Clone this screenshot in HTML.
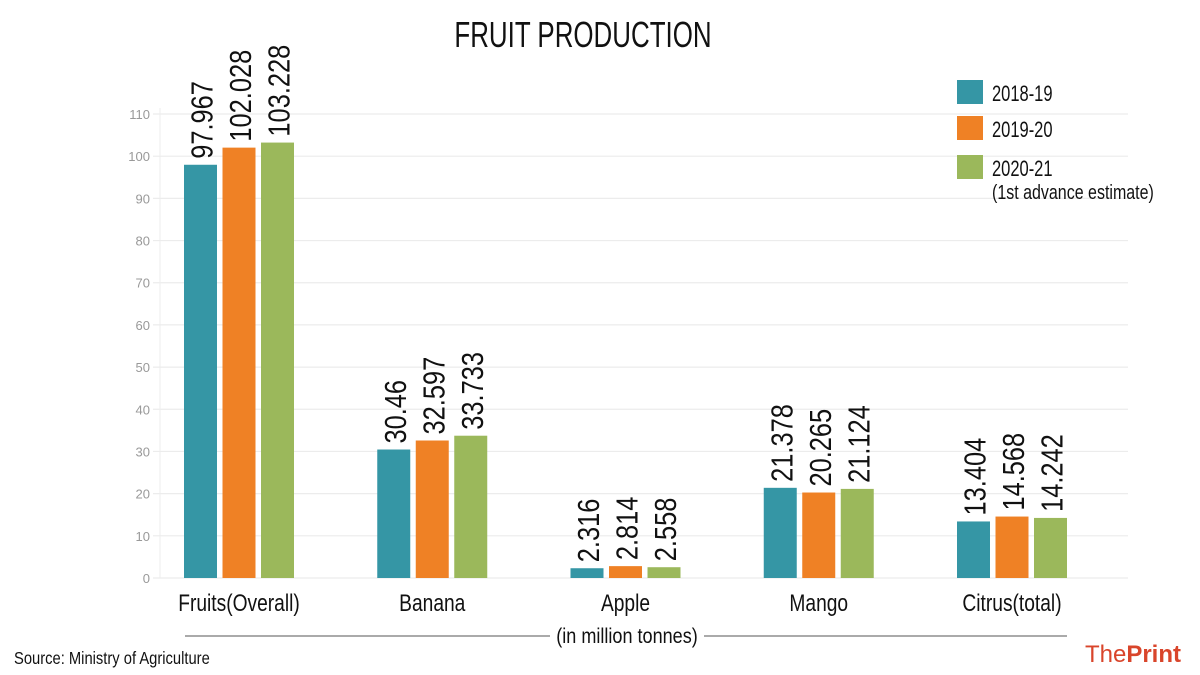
<!DOCTYPE html>
<html><head><meta charset="utf-8"><style>
body{margin:0;background:#fff}
svg{display:block}
text{font-family:"Liberation Sans Narrow","Liberation Sans",sans-serif}
</style></head><body>
<svg id="chart" width="1200" height="675" viewBox="0 0 1200 675" xmlns="http://www.w3.org/2000/svg">
<rect width="1200" height="675" fill="#fff"/>
<text transform="translate(583,47) scale(0.72,1)" font-size="36" text-anchor="middle" fill="#111">FRUIT PRODUCTION</text>
<g id="grid"></g>
<g id="bars"></g>
<g id="labels"></g>
<g id="xlabels"></g>
<g>
<rect x="957" y="80" width="26" height="24" fill="#3596a5"/>
<text transform="translate(992,101) scale(0.75,1)" font-size="22" fill="#111">2018-19</text>
<rect x="957" y="116" width="26" height="24" fill="#ef8125"/>
<text transform="translate(992,137) scale(0.75,1)" font-size="22" fill="#111">2019-20</text>
<rect x="957" y="155" width="26" height="24" fill="#9bb85b"/>
<text transform="translate(992,176) scale(0.75,1)" font-size="22" fill="#111">2020-21</text>
<text transform="translate(992,199) scale(0.8,1)" font-size="20" fill="#111">(1st advance estimate)</text>
</g>
<line x1="185" y1="636" x2="550" y2="636" stroke="#555" stroke-width="1"/>
<line x1="704" y1="636" x2="1067" y2="636" stroke="#555" stroke-width="1"/>
<text transform="translate(627,643) scale(0.86,1)" font-size="21" text-anchor="middle" fill="#111">(in million tonnes)</text>
<text transform="translate(14,664) scale(0.82,1)" font-size="18" fill="#111">Source: Ministry of Agriculture</text>
<text x="1181" y="662" font-size="24" text-anchor="end" font-family="Liberation Serif,serif" fill="#d9452b">The<tspan font-weight="bold">Print</tspan></text>
</svg>
<script>
const categories=["Fruits(Overall)","Banana","Apple","Mango","Citrus(total)"];
const s2018=[97.967,30.46,2.316,21.378,13.404];
const s2019=[102.028,32.597,2.814,20.265,14.568];
const s2020=[103.228,33.733,2.558,21.124,14.242];
const labels2018=["97.967","30.46","2.316","21.378","13.404"];
const labels2019=["102.028","32.597","2.814","20.265","14.568"];
const labels2020=["103.228","33.733","2.558","21.124","14.242"];
const yTicks=[0,10,20,30,40,50,60,70,80,90,100,110];
const NS="http://www.w3.org/2000/svg";
const y0=578,y110=114;
function y(v){return y0-(v/110)*(y0-y110);}
function gx(i){return 184+i*193.25;}
function mk(tag,attrs,parent){const e=document.createElementNS(NS,tag);for(const k in attrs)e.setAttribute(k,attrs[k]);parent.appendChild(e);return e;}
const grid=document.getElementById('grid');
const vline=mk('line',{x1:160,y1:y110-6,x2:160,y2:y0,stroke:'#eee','stroke-width':1},grid);


yTicks.forEach(t=>{
 const l=mk('line',{x1:153,x2:1128,y1:y(t),y2:y(t),stroke:'#ececec','stroke-width':1.2},grid);
 
 
 const tx=mk('text',{x:150,y:y(t)+5,'font-size':13,'text-anchor':'end',fill:'#999'},grid);
 tx.textContent=t;
 
 
});
const series=[[s2018,labels2018,'#3596a5','2018-19'],[s2019,labels2019,'#ef8125','2019-20'],[s2020,labels2020,'#9bb85b','2020-21']];
const bars=document.getElementById('bars'),lab=document.getElementById('labels'),xl=document.getElementById('xlabels');
categories.forEach((c,i)=>{
 series.forEach((s,j)=>{
  const x=gx(i)+j*38.5,w=33,v=s[0][i];
  const r=mk('rect',{x:x,y:y(v),width:w,height:y0-y(v),fill:s[2]},bars);
  
  
  const tx=mk('text',{x:0,y:0,'font-size':31,fill:'#111',transform:`translate(${x+w/2+12},${y(v)-6}) rotate(-90) scale(0.82,1)`},lab);
  tx.textContent=s[1][i];
  
  
 });
 const t=mk('text',{x:0,y:0,'font-size':24,'text-anchor':'middle',fill:'#111',transform:`translate(${gx(i)+55},611) scale(0.8,1)`},xl);
 t.textContent=c;
 
 
});
</script>
</body></html>
